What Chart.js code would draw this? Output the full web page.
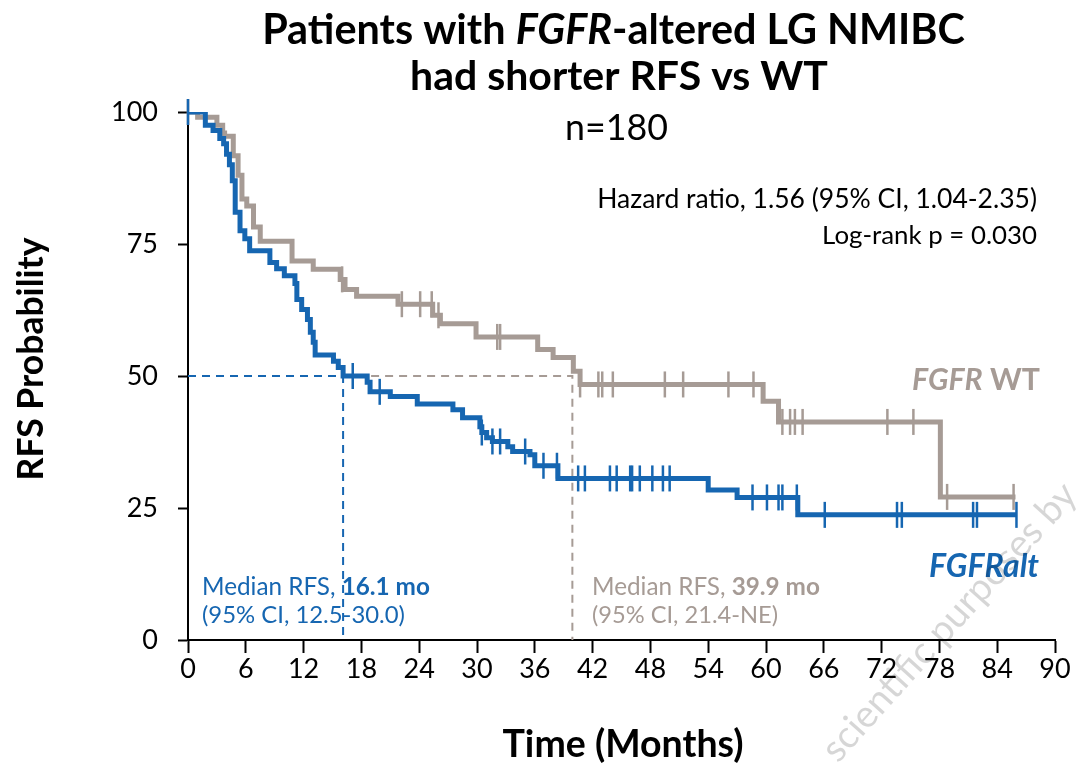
<!DOCTYPE html>
<html><head><meta charset="utf-8">
<script src="https://cdn.jsdelivr.net/npm/chart.js@4.4.1/dist/chart.umd.min.js"></script>
<style>html,body{margin:0;padding:0;background:#fff;}#wrap{width:1079px;height:767px;position:relative}</style>
</head><body><div id="wrap"><canvas id="c" width="1079" height="767"></canvas></div>
<script>
// ---------- DATA ----------
const xTickValues = [0, 6, 12, 18, 24, 30, 36, 42, 48, 54, 60, 66, 72, 78, 84, 90];
const yTickValues = [0, 25, 50, 75, 100];

// FGFR-altered (blue) Kaplan-Meier steps: time (months) and survival (%) after each event
const altTimes = [0, 1.8, 2.6, 3.3, 3.7, 4.0, 4.3, 4.6, 4.9, 5.4, 5.9, 6.4, 8.5, 9.2, 10.0, 11.1, 11.3, 11.8, 12.4, 12.7, 13.0, 13.2, 15.1, 15.6, 16.1, 18.6, 18.9, 21.0, 23.8, 27.5, 28.5, 30.3, 30.5, 31.0, 31.6, 33.2, 33.7, 35.5, 36.0, 38.4, 54.0, 57.0, 63.3, 86.0];
const altSurv  = [100, 97.5, 96.5, 95, 94, 92, 90, 87, 81, 77.5, 76, 73.7, 71.5, 70.3, 69, 67.5, 64.5, 62.6, 60.7, 58.3, 56.4, 54, 52.8, 51.6, 50, 48.8, 47, 46.1, 44.7, 43.6, 42.1, 40.4, 39.3, 38.3, 37.6, 36.6, 35.7, 35.1, 33, 30.6, 28.4, 27, 23.7, 23.7];
const altCensorTimes = [0, 17.1, 19.9, 30.5, 31.6, 32.4, 35.0, 36.9, 38.3, 40.5, 41.2, 43.8, 44.5, 45.9, 46.1, 46.9, 48.2, 49.3, 50.0, 58.6, 60.1, 61.3, 61.7, 63.2, 66.1, 73.6, 74.1, 81.5, 81.9, 86.0];

// FGFR wild-type (gray)
const wtTimes = [0, 1.0, 3.0, 3.6, 3.8, 4.7, 5.2, 5.6, 6.1, 6.8, 7.5, 10.8, 13.0, 15.8, 16.3, 17.5, 21.8, 25.4, 26.2, 29.9, 36.3, 37.9, 40.0, 40.7, 59.7, 61.3, 78.1, 85.9];
const wtSurv  = [100, 99, 97.5, 96, 95.4, 91.7, 88, 83.5, 82.2, 78.2, 75.5, 71.8, 70.2, 68.3, 66.4, 65.1, 63.6, 61.5, 59.9, 57.4, 55, 53.5, 50.9, 48.4, 45.2, 41.3, 27.1, 27.1];
const wtCensorTimes = [0, 16.0, 22.2, 24.1, 25.3, 26.0, 32.1, 32.4, 40.7, 42.6, 43.0, 44.1, 49.5, 51.4, 56.1, 58.7, 61.7, 62.5, 63.0, 63.8, 72.6, 75.3, 78.8, 85.7];

const medianAlt = 16.1;
const medianWT = 39.9;
const medianLevel = 50;

// ---------- STYLE ----------
const BLUE = '#1666B1';
const GRAY = '#A69B95';
const FONT = 'Lato';

function levelAt(times, surv, t) {
  let v = surv[0];
  for (let i = 0; i < times.length; i++) { if (times[i] <= t) v = surv[i]; }
  return v;
}
const toPts = (ts, ss) => ts.map((t, i) => ({x: t, y: ss[i]}));
const censorPts = (cts, ts, ss) => cts.map(t => ({x: t, y: levelAt(ts, ss, t)}));

function fontStr(r, size) {
  return (r.i ? 'italic ' : '') + (r.b ? 'bold ' : '') + size + 'px ' + FONT;
}
function runsWidth(ctx, runs, size) {
  let w = 0;
  for (const r of runs) { ctx.font = fontStr(r, size); w += ctx.measureText(r.t).width; }
  return w;
}
function drawRuns(ctx, runs, x, y, align, targetW, color) {
  const base = 30;
  const size = base * targetW / runsWidth(ctx, runs, base);
  const w = runsWidth(ctx, runs, size);
  let sx = align === 'center' ? x - w / 2 : (align === 'right' ? x - w : x);
  ctx.textBaseline = 'alphabetic';
  ctx.textAlign = 'left';
  for (const r of runs) {
    ctx.font = fontStr(r, size);
    ctx.fillStyle = r.c || color;
    ctx.fillText(r.t, sx, y);
    sx += ctx.measureText(r.t).width;
  }
}

const textPlugin = {
  id: 'texts',
  afterDraw(chart) {
    const ctx = chart.ctx;
    ctx.save();
    drawRuns(ctx, [{t:'Patients with ', b:1}, {t:'FGFR', b:1, i:1}, {t:'-altered LG NMIBC', b:1}], 613.5, 44, 'center', 703, '#000');
    drawRuns(ctx, [{t:'had shorter RFS vs WT', b:1}], 619, 90, 'center', 418, '#000');
    drawRuns(ctx, [{t:'n=180'}], 616.5, 140, 'center', 103, '#000');
    drawRuns(ctx, [{t:'Hazard ratio, 1.56 (95% CI, 1.04-2.35)'}], 1037, 208, 'right', 440, '#000');
    drawRuns(ctx, [{t:'Log-rank p = 0.030'}], 1037, 244, 'right', 215, '#000');
    drawRuns(ctx, [{t:'FGFR', b:1, i:1}, {t:' WT', b:1}], 1040, 390, 'right', 128, GRAY);
    drawRuns(ctx, [{t:'FGFRalt', b:1, i:1}], 1039, 577, 'right', 110, BLUE);
    drawRuns(ctx, [{t:'Median RFS, '}, {t:medianAlt.toFixed(1) + ' mo', b:1}], 202, 595, 'left', 228, BLUE);
    drawRuns(ctx, [{t:'(95% CI, 12.5-30.0)'}], 202, 623, 'left', 203, BLUE);
    drawRuns(ctx, [{t:'Median RFS, '}, {t:medianWT.toFixed(1) + ' mo', b:1}], 592, 595, 'left', 228, GRAY);
    drawRuns(ctx, [{t:'(95% CI, 21.4-NE)'}], 592, 623, 'left', 186, GRAY);
    // axis titles
    drawRuns(ctx, [{t:'Time (Months)', b:1}], 623, 757, 'center', 241, '#000');
    ctx.save();
    ctx.translate(43, 359);
    ctx.rotate(-Math.PI / 2);
    drawRuns(ctx, [{t:'RFS Probability', b:1}], 0, 0, 'center', 243, '#000');
    ctx.restore();
    // watermark
    ctx.save();
    ctx.translate(838, 764);
    ctx.rotate(-48 * Math.PI / 180);
    ctx.globalAlpha = 0.16;
    drawRuns(ctx, [{t:'scientific purposes by'}], 0, 0, 'left', 360, '#000');
    ctx.restore();
    ctx.restore();
  }
};

new Chart(document.getElementById('c'), {
  type: 'line',
  data: {
    datasets: [
      {data: censorPts(altCensorTimes, altTimes, altSurv), showLine: false, pointStyle: 'line', rotation: 90, pointRadius: 13, pointBorderWidth: 2.5, borderColor: BLUE, backgroundColor: BLUE, clip: false},
      {data: toPts(altTimes, altSurv), stepped: true, borderColor: BLUE, borderWidth: 5, pointRadius: 0, fill: false, borderCapStyle: 'butt', borderJoinStyle: 'miter'},
      {data: censorPts(wtCensorTimes, wtTimes, wtSurv), showLine: false, pointStyle: 'line', rotation: 90, pointRadius: 13, pointBorderWidth: 2.5, borderColor: GRAY, backgroundColor: GRAY, clip: false},
      {data: toPts(wtTimes, wtSurv), stepped: true, borderColor: GRAY, borderWidth: 5, pointRadius: 0, fill: false, borderCapStyle: 'butt', borderJoinStyle: 'miter'},
      {data: [{x: 0, y: medianLevel}, {x: medianAlt, y: medianLevel}, {x: medianAlt, y: 0}], borderColor: BLUE, borderWidth: 2, borderDash: [8, 6], pointRadius: 0, fill: false},
      {data: [{x: medianAlt, y: medianLevel}, {x: medianWT, y: medianLevel}, {x: medianWT, y: 0}], borderColor: GRAY, borderWidth: 2, borderDash: [8, 6], pointRadius: 0, fill: false}
    ]
  },
  options: {
    responsive: false,
    animation: false,
    devicePixelRatio: 1,
    layout: {padding: {top: 112, right: 24, left: 0, bottom: 0}},
    plugins: {legend: {display: false}, tooltip: {enabled: false}},
    scales: {
      x: {
        type: 'linear', min: 0, max: 90,
        afterBuildTicks: s => { s.ticks = xTickValues.map(v => ({value: v})); },
        afterFit: s => { s.height = 127; },
        grid: {drawOnChartArea: false, drawTicks: true, tickLength: 13, tickWidth: 2, tickColor: '#000'},
        border: {display: true, color: '#000', width: 2},
        ticks: {font: {family: FONT, size: 27}, color: '#000', padding: 0, maxRotation: 0, autoSkip: false}
      },
      y: {
        type: 'linear', min: 0, max: 100,
        afterBuildTicks: s => { s.ticks = yTickValues.map(v => ({value: v})); },
        afterFit: s => { s.width = 188; },
        grid: {drawOnChartArea: false, drawTicks: true, tickLength: 10, tickWidth: 2, tickColor: '#000'},
        border: {display: true, color: '#000', width: 2},
        ticks: {font: {family: FONT, size: 27}, color: '#000', padding: 20}
      }
    }
  },
  plugins: [textPlugin]
});
</script></body></html>
